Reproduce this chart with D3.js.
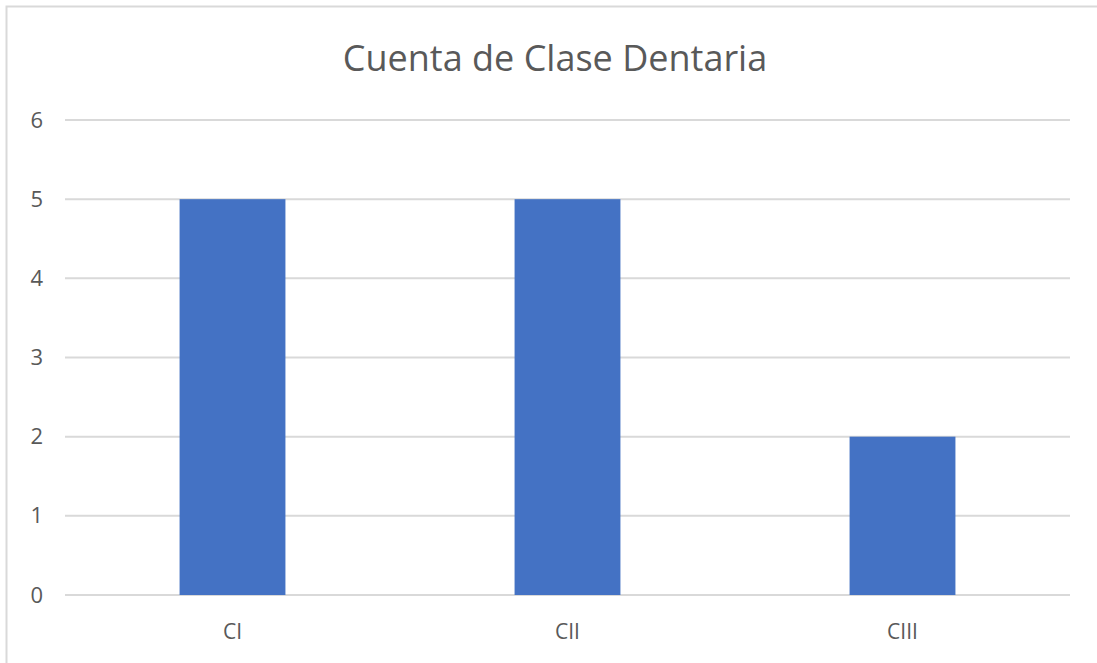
<!DOCTYPE html>
<html>
<head>
<meta charset="utf-8">
<script src="https://cdn.jsdelivr.net/npm/d3@7"></script>
<style>
  body { margin: 0; background: #fff; }
  svg { display: block; font-family: "Open Sans", "Noto Sans", sans-serif; }
</style>
</head>
<body>
<svg id="chart"></svg>
<script>
const categories = ["CI", "CII", "CIII"];
const counts = [5, 5, 2];
const yTicks = [0, 1, 2, 3, 4, 5, 6];
const title = "Cuenta de Clase Dentaria";

const width = 1097;
const height = 663;
const plot = { left: 65, right: 1070, top: 120, bottom: 595 };

let svg = d3.select("#chart").attr("width", width).attr("height", height);

// chart frame (only top and left edges are in view)
svg.append("path")
    .attr("d", `M6.5,${height} V6.5 H${width}`)
    .attr("fill", "none")
    .attr("stroke", "#d9d9d9")
    .attr("stroke-width", 2);

let scaleX = d3.scaleBand()
    .domain(categories)
    .range([plot.left, plot.right])
    .paddingInner(0.684)
    .paddingOuter(0.342);
let scaleY = d3.scaleLinear()
    .domain([0, 6])
    .range([plot.bottom, plot.top]);

// gridlines
svg.append("g")
    .selectAll("line")
    .data(yTicks)
    .enter()
    .append("line")
    .attr("x1", plot.left)
    .attr("x2", plot.right)
    .attr("y1", d => scaleY(d))
    .attr("y2", d => scaleY(d))
    .attr("stroke", "#d9d9d9")
    .attr("stroke-width", 2);

// y axis labels
let axisY = d3.axisLeft(scaleY)
    .tickValues(yTicks)
    .tickFormat(d3.format("d"))
    .tickSize(0)
    .tickPadding(0);
let gY = svg.append("g")
    .attr("transform", `translate(43, 0)`)
    .call(axisY);
gY.select(".domain").remove();
gY.selectAll("text")
    .attr("fill", "#595959")
    .style("font-size", "22px")
    .style("font-family", '"Open Sans", "Noto Sans", sans-serif');

// bars
svg.append("g")
    .selectAll("rect")
    .data(categories)
    .enter()
    .append("rect")
    .attr("x", d => scaleX(d))
    .attr("y", (d, i) => scaleY(counts[i]))
    .attr("width", scaleX.bandwidth())
    .attr("height", (d, i) => scaleY(0) - scaleY(counts[i]))
    .attr("fill", "#4472c4");

// x axis labels
let axisX = d3.axisBottom(scaleX).tickSize(0).tickPadding(0);
let gX = svg.append("g")
    .attr("transform", `translate(0, 632)`)
    .call(axisX);
gX.select(".domain").remove();
gX.selectAll("text")
    .attr("fill", "#595959")
    .attr("dy", "0.35em")
    .style("font-size", "21px")
    .style("font-family", '"Open Sans", "Noto Sans", sans-serif');

// title
svg.append("text")
    .attr("x", 555)
    .attr("y", 71)
    .attr("text-anchor", "middle")
    .attr("fill", "#595959")
    .style("font-size", "36px")
    .text(title);
</script>
</body>
</html>
